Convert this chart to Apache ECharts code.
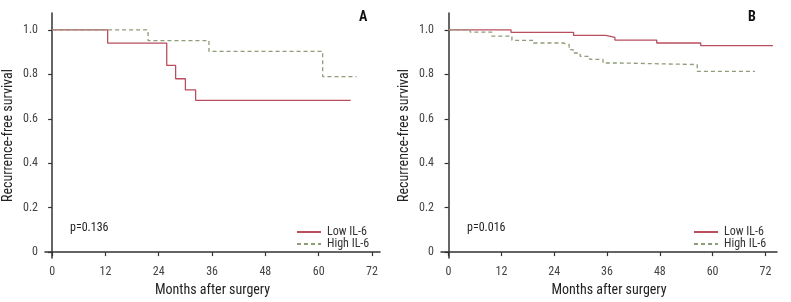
<!DOCTYPE html>
<html>
<head>
<meta charset="utf-8">
<script src="https://cdn.jsdelivr.net/npm/echarts@6/dist/echarts.min.js"></script>
<style>
  html, body { margin: 0; padding: 0; background: #ffffff; }
  #chart { width: 791px; height: 302px; }
</style>
</head>
<body>
<div id="chart"></div>
<script>
// 刻度
const xTicks = [0, 12, 24, 36, 48, 60, 72]
const yTicks = [0, 0.2, 0.4, 0.6, 0.8, 1.0]

// Panel A
const aLowTime = [0, 12.5, 25.8, 27.8, 30.0, 32.3, 67.2]
const aLowSurv = [1.0, 0.94, 0.84, 0.78, 0.73, 0.683, 0.683]
const aHighTime = [0, 21.6, 35.3, 60.9, 68.5]
const aHighSurv = [1.0, 0.952, 0.903, 0.79, 0.79]

// Panel B
const bLowTime = [0, 14.2, 28.4, 35.7, 37.8, 47.3, 57.3, 73.7]
const bLowSurv = [1.0, 0.989, 0.975, 0.966, 0.954, 0.941, 0.929, 0.929]
const bHighTime = [0, 4.9, 9.8, 14.4, 19.3, 26.1, 27.4, 28.3, 29.9, 32.1, 35.1, 39.0, 56.5, 69.6]
const bHighSurv = [1.0, 0.99, 0.972, 0.953, 0.941, 0.934, 0.911, 0.896, 0.881, 0.867, 0.851, 0.844, 0.813, 0.813]

const pValues = ['p=0.136', 'p=0.016']
const panelNames = ['A', 'B']

const FONT = '"Liberation Sans Narrow", "Roboto Condensed", Roboto, sans-serif'
const RED = '#b94e5e'
const GREEN = '#8e9c78'
const AXIS = '#333333'

const pairs = (t, v) => t.map((x, i) => [x, v[i]])

const grids = [
  { left: 44, right: 411, top: 13, bottom: 43 },
  { left: 441, right: 14, top: 13, bottom: 43 }
]
const xRange = [[-1.6, 73.8], [-1.72, 74.63]]

const xAxis = grids.map((g, i) => ({
  type: 'value',
  gridIndex: i,
  min: xRange[i][0],
  max: xRange[i][1],
  name: 'Months after surgery',
  nameLocation: 'middle',
  nameGap: 24,
  nameTextStyle: { fontFamily: FONT, fontSize: 14, color: '#222' },
  splitLine: { show: false },
  axisLine: { lineStyle: { color: AXIS, width: 1.5 } },
  axisTick: { customValues: xTicks, length: 4, lineStyle: { color: AXIS, width: 1.2 } },
  axisLabel: { customValues: xTicks, margin: 8, fontFamily: FONT, fontSize: 12, color: '#444' }
}))

const yAxis = grids.map((g, i) => ({
  type: 'value',
  gridIndex: i,
  min: -0.027,
  max: 1.076,
  name: 'Recurrence-free survival',
  nameLocation: 'middle',
  nameGap: 30,
  nameTextStyle: { fontFamily: FONT, fontSize: 14, color: '#222' },
  splitLine: { show: false },
  axisLine: { show: true, lineStyle: { color: AXIS, width: 1.5 } },
  axisTick: { show: true, customValues: yTicks, length: 4, lineStyle: { color: AXIS, width: 1.2 } },
  axisLabel: {
    customValues: yTicks,
    margin: 7,
    fontFamily: FONT,
    fontSize: 12,
    color: '#444',
    formatter: (v) => (v === 0 ? '0' : v.toFixed(1))
  }
}))

const lineSeries = (name, data, idx, color, dashed) => ({
  name: name,
  type: 'line',
  step: 'end',
  xAxisIndex: idx,
  yAxisIndex: idx,
  showSymbol: false,
  symbol: 'none',
  animation: false,
  data: data,
  lineStyle: { color: color, width: 1.3, type: dashed ? [4, 3] : 'solid' },
  itemStyle: { color: color }
})

const series = [
  lineSeries('Low IL-6', pairs(aLowTime, aLowSurv), 0, RED, false),
  lineSeries('High IL-6', pairs(aHighTime, aHighSurv), 0, GREEN, true),
  lineSeries('Low IL-6', pairs(bLowTime, bLowSurv), 1, RED, false),
  lineSeries('High IL-6', pairs(bHighTime, bHighSurv), 1, GREEN, true)
]

// 图例
const legendLefts = [291, 688]
const legend = legendLefts.map((l) => ({
  left: l,
  top: 221,
  orient: 'vertical',
  itemWidth: 24,
  itemHeight: 8,
  itemGap: 0,
  selectedMode: false,
  itemStyle: { opacity: 0 },
  data: ['Low IL-6', 'High IL-6'],
  textStyle: { fontFamily: FONT, fontSize: 12, color: '#333', padding: [0, 0, 0, 1] }
}))

const graphic = [
  { type: 'text', left: 70, top: 222, style: { text: pValues[0], font: '12px ' + FONT, fill: '#222' } },
  { type: 'text', left: 467, top: 222, style: { text: pValues[1], font: '12px ' + FONT, fill: '#222' } },
  { type: 'text', left: 359, top: 10, style: { text: panelNames[0], font: 'bold 14px ' + FONT, fill: '#111' } },
  { type: 'text', left: 748, top: 10, style: { text: panelNames[1], font: 'bold 14px ' + FONT, fill: '#111' } }
]

const myChart = echarts.init(document.getElementById('chart'))
myChart.setOption({
  animation: false,
  backgroundColor: '#ffffff',
  grid: grids,
  xAxis: xAxis,
  yAxis: yAxis,
  legend: legend,
  graphic: graphic,
  series: series
})
</script>
</body>
</html>
